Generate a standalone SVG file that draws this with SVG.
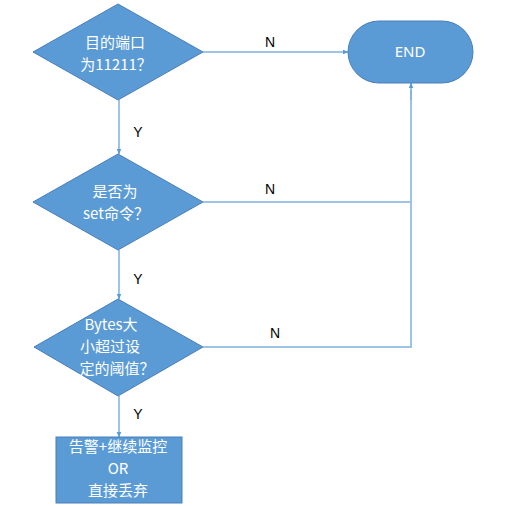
<svg xmlns="http://www.w3.org/2000/svg" width="512" height="506" viewBox="0 0 512 506">
<defs>
<marker id="arr" viewBox="0 0 10 10" refX="9" refY="5" markerWidth="6" markerHeight="6" orient="auto" markerUnits="userSpaceOnUse">
<path d="M0,1 L10,5 L0,9 z" fill="#5B9BD5"/>
</marker>
<style>
.shape{fill:#5B9BD5;stroke:#4A7EBB;stroke-width:1}
.t{fill:#fff;font-family:"Noto Sans CJK SC","Noto Sans",sans-serif;font-size:15px;text-anchor:middle}
.e{fill:#fff;font-family:"Noto Sans","Noto Sans CJK SC",sans-serif;font-size:15px;text-anchor:middle}
.lbl{fill:#000;font-family:"Liberation Sans","Noto Sans",sans-serif;font-size:14px;text-anchor:middle}
.c{fill:none;stroke:#7EB0DE;stroke-width:1.5;marker-end:url(#arr)}
.c2{fill:none;stroke:#9DC3E6;stroke-width:2}
</style>
</defs>
<rect width="512" height="506" fill="#fff"/>
<g id="connectors">
<path class="c" d="M203,52 L348,52"/>
<path class="c" d="M119,100 L119,154"/>
<path class="c" d="M119,250 L119,299"/>
<path class="c" d="M119,396 L119,437"/>
<path class="c2" d="M203,202 L411,202"/>
<path class="c2" d="M203,347 L411,347 L411,90"/>
<path class="c" d="M411,100 L411,83"/>
<text class="lbl" x="270" y="47">N</text>
<text class="lbl" x="270" y="194">N</text>
<text class="lbl" x="275" y="338">N</text>
<text class="lbl" x="138" y="137">Y</text>
<text class="lbl" x="138" y="284">Y</text>
<text class="lbl" x="138" y="419">Y</text>
</g>
<g id="d1">
<polygon class="shape" points="118,4 203,52 118,100 33,52"/>
<text class="t"><tspan x="115" y="48">目的端口</tspan><tspan x="116" y="70">为11211？</tspan></text>
</g>
<g id="d2">
<polygon class="shape" points="118,154 203,202 118,250 33,202"/>
<text class="t"><tspan x="115" y="197">是否为</tspan><tspan x="116" y="219">set命令？</tspan></text>
</g>
<g id="d3">
<polygon class="shape" points="118,299 203,347 118,396 34,347"/>
<text class="t"><tspan x="111" y="330">Bytes大</tspan><tspan x="110" y="352">小超过设</tspan><tspan x="117" y="374">定的阈值？</tspan></text>
</g>
<g id="end">
<rect class="shape" x="348" y="21" width="125" height="62" rx="31" ry="31"/>
<text class="e" x="410" y="57">END</text>
</g>
<g id="action">
<rect class="shape" x="56" y="437" width="126" height="66"/>
<text class="t"><tspan x="118" y="452">告警+继续监控</tspan><tspan x="118" y="474">OR</tspan><tspan x="118" y="496">直接丢弃</tspan></text>
</g>
</svg>
